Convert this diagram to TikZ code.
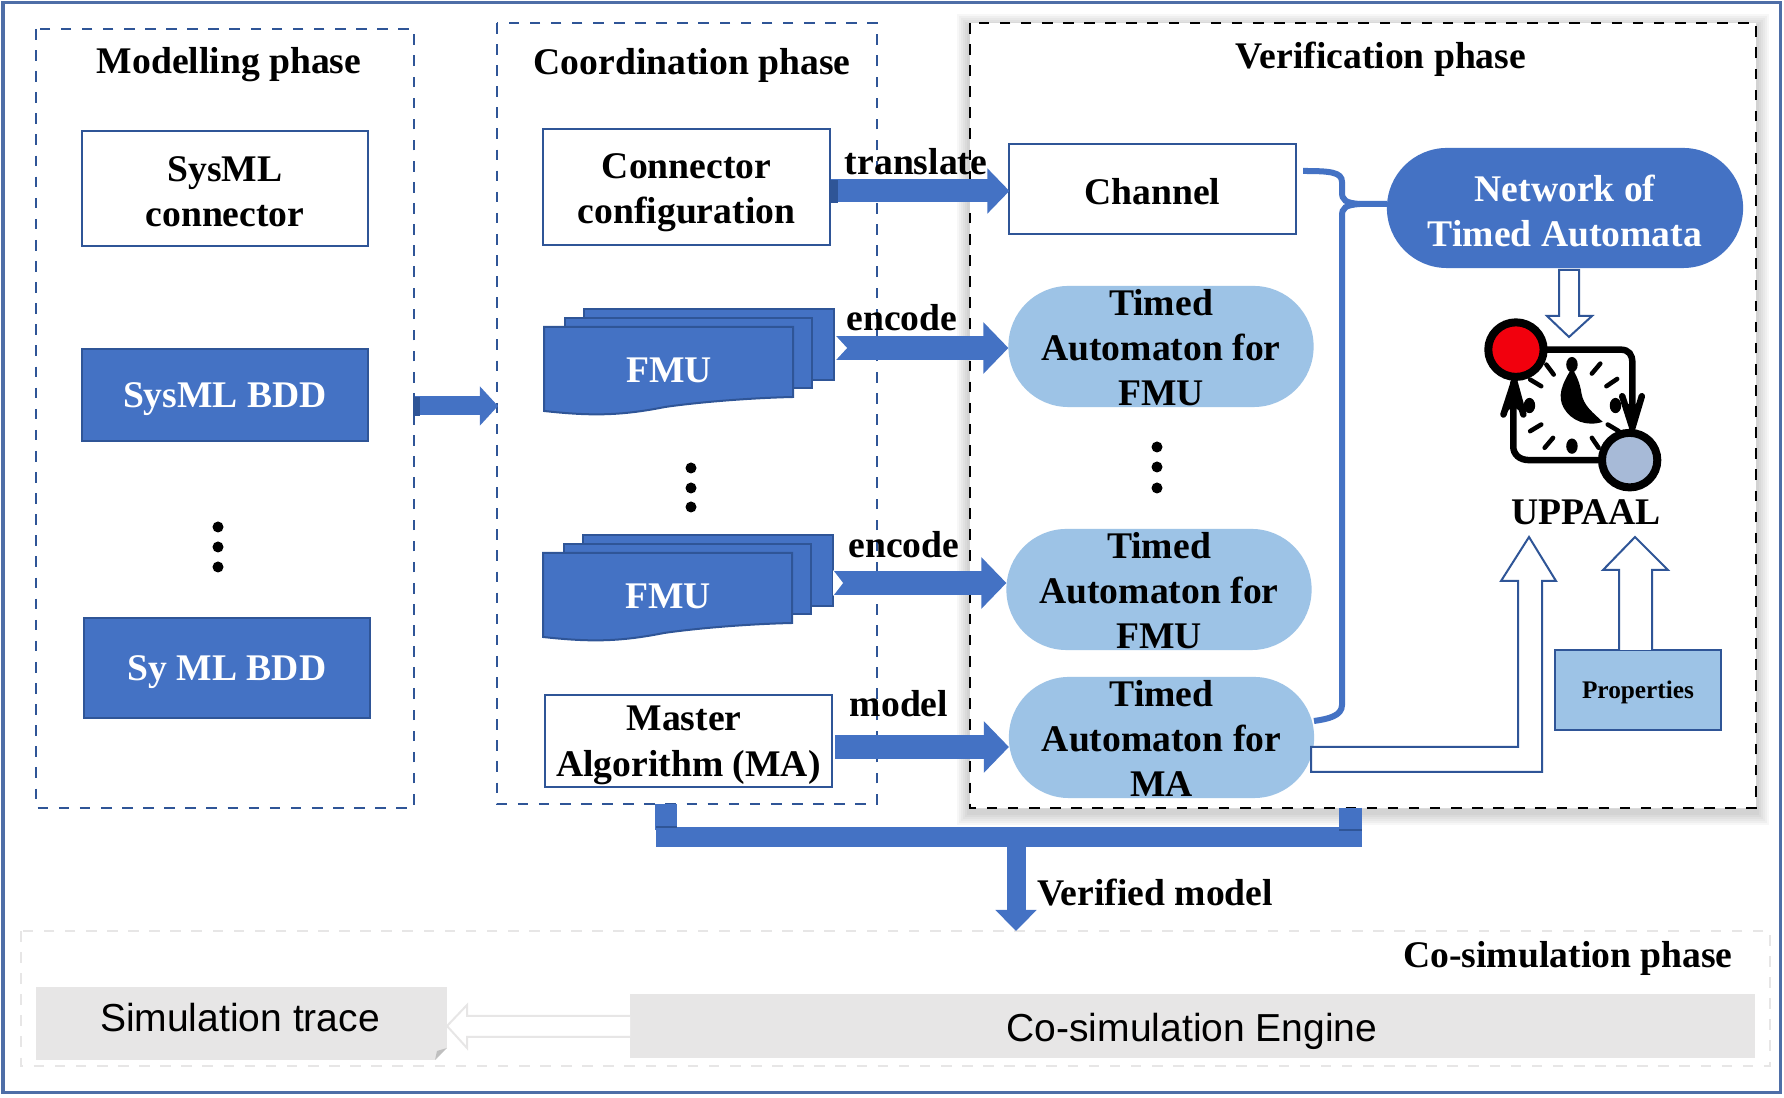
\documentclass[tikz,border=0pt]{standalone}
\usepackage{fontspec}
\setmainfont{Liberation Serif}
\newfontfamily\enginefont{Liberation Sans}
\usetikzlibrary{arrows.meta}
\usepackage{xcolor}

\begin{document}
\begin{tikzpicture}[x=.01cm, y=-.01cm]

    % style
    \definecolor{myblue}{RGB}{68, 114, 196}
    \definecolor{myborder}{RGB}{47, 85, 151}
    \definecolor{mylight}{RGB}{157, 195, 230}
    \definecolor{mygray}{RGB}{231, 230, 230}
    \tikzset{
        font=\fontsize{10.7}{12.9}\selectfont\bfseries,
        every node/.append style={inner sep=0pt, outer sep=0pt, align=center},
        sansfont/.style={font=\enginefont\fontsize{11.1}{13}\selectfont},
        phasebox/.style={draw=myborder, dashed, line width=.02cm},
        whitebox/.style={draw=myborder, fill=white, line width=.02cm, minimum width=2.86cm},
        bluebox/.style={draw=myborder, fill=myblue, line width=.02cm, minimum width=2.86cm},
        tanode/.style={fill=mylight, rounded corners=.6cm, minimum width=3.05cm, minimum height=1.21cm},
        bluearrow/.style={draw=myblue, line width=.24cm, -{Triangle[width=.5cm,length=.25cm]}},
        sheet/.style={draw=myborder, fill=myblue, line width=.02cm},
        hollow/.style={draw=myborder, fill=white, line width=.02cm},
        icon/.style={draw=black, line width=.065cm, line cap=round}
    }

    \useasboundingbox (0,0) rectangle (1784,1098);

    % outer frame
    \draw [draw=myborder!85, line width=.03cm] (3,3) rectangle (1780,1093);

    % phase boxes
    \draw [phasebox] (36,29) rectangle (414,808);
    \draw [phasebox] (497,23) rectangle (877,804);
    \foreach \w in {.26,.22,.18,.14,.1,.06}
    \draw [black, opacity=.03, line width=\w cm, yshift=-.04cm] (970,23) rectangle (1756,808);
    \draw [draw=black, fill=white, dashed, line width=.02cm] (970,23) rectangle (1756,808);
    \draw [draw=mygray, dashed, line width=.02cm] (21,931) rectangle (1770,1066);

    % headings
    \node (modeltitle) at (229,64.5) {Modelling phase};
    \node (coordtitle) at (692,65.5) {Coordination phase};
    \node (verifytitle) at (1381,59) {Verification phase};
    \node (cosimtitle) at (1568,958) {Co-simulation phase};

    % Modelling phase
    \node [whitebox, minimum height=1.15cm] (sysconn) at (225,188.5) {};
    \node (sysconntext) at ([yshift=-.03cm]sysconn) {SysML\\connector};
    \node [bluebox, minimum height=.92cm] (bddA) at (225,395) {};
    \node [text=white] (bddAtext) at ([yshift=-.045cm]bddA) {SysML BDD};
    \node [bluebox, minimum height=1cm] (bddB) at (227,668) {};
    \node [text=white] (bddBtext) at ([yshift=-.045cm]bddB) {Sy ML BDD};
    \foreach \y in {527,547,567}
    \fill (218,\y) circle (.055cm);

    % Coordination phase
    \node [whitebox, minimum height=1.16cm] (connconf) at (686.5,187) {};
    \node (connconftext) at ([yshift=-.06cm]connconf) {Connector\\configuration};
    \foreach \fx/\fy/\fname in {0/0/fmuA, -1/226/fmuB}
    {
        \begin{scope}[shift={(\fx,\fy)}]
        \draw [sheet] (584,309) rectangle (834,380);
        \draw [sheet] (565,318) rectangle (812,388);
        \draw [sheet] (544,327) -- (793,327) -- (793,397) .. controls (750,398) and (700,402) .. (665,407) .. controls (620,416) and (590,416) .. (544,411) -- cycle;
        \node [text=white] (\fname) at (669,370) {FMU};
        \end{scope}
    }
    \coordinate (outA) at (835,348);
    \coordinate (outB) at (833,583);
    \foreach \y in {468,488,507}
    \fill (691,\y) circle (.055cm);
    \node [whitebox, minimum height=.92cm] (master) at (688.5,741) {};
    \node (mastertext) at ([yshift=-.045cm]master) {Master\hspace*{.09cm}\\Algorithm (MA)};

    % Verification phase
    \node [whitebox, minimum height=.9cm] (channel) at (1152.5,189) {};
    \node (channeltext) at ([yshift=-.025cm]channel) {Channel};
    \node [tanode] (taA) at (1161,346.5) {};
    \node (taAtext) at ([yshift=-.01cm]taA) {Timed\\Automaton for\\FMU};
    \foreach \y in {447,467,488}
    \fill (1157,\y) circle (.055cm);
    \node [tanode] (taB) at (1159,589.5) {};
    \node (taBtext) at ([yshift=-.01cm]taB) {Timed\\Automaton for\\FMU};
    \node [tanode] (taC) at (1161.5,737.5) {};
    \node (taCtext) at ([yshift=-.01cm]taC) {Timed\\Automaton for\\MA};
    \node [fill=myblue, rounded corners=.6cm, minimum width=3.56cm, minimum height=1.2cm] (network) at (1565,208) {};
    \node [text=white] (networktext) at ([yshift=-.03cm]network) {Network of\\Timed Automata};
    \node [draw=myborder, fill=mylight, line width=.02cm, minimum width=1.66cm, minimum height=.8cm] (props) at (1638,690) {};
    \node [font=\fontsize{7.2}{9}\selectfont\bfseries] (propstext) at ([yshift=-.025cm]props) {Properties};
    \node (uppaal) at (1586,512) {UPPAAL};

    % block arrows between phases
    \coordinate (outModel) at (415,406);
    \coordinate (outConn) at (831,191);
    \coordinate (outMaster) at (835,747);
    \draw [bluearrow, line width=.19cm, -{Triangle[width=.38cm,length=.18cm]}] (outModel) -- (outModel -| 498,419);
    \draw [bluearrow, line width=.23cm, -{Triangle[width=.44cm,length=.22cm]}] (outConn) -- (outConn -| channel.west);
    \fill [myborder] (413,397) rectangle (420,416);
    \fill [myborder] (830,180) rectangle (838,203);
    \draw [bluearrow] (outA) -- (outA -| taA.west);
    \draw [bluearrow] (outB) -- (outB -| taB.west);
    \fill [white] (835,335) -- (847,348) -- (835,361) -- cycle;
    \fill [white] (833,570) -- (843,583) -- (833,596) -- cycle;
    \draw [bluearrow] (outMaster) -- (outMaster -| taC.west);

    \node (translate) at (916,162) {translate};
    \node (encodeA) at (902,318) {encode};
    \node (encodeB) at (904,545) {encode};
    \node (modeltext) at (899,704) {model};

    % brace from channel and automata to the network
    \coordinate (braceA) at (1303,171);
    \coordinate (braceB) at (1314,721);
    \draw [draw=myblue, line width=.06cm] (braceA) .. controls (1330,171) and (1342,172) .. (1342,182) -- (1342,192) .. controls (1342,200) and (1345,203) .. (1360,204) -- ([yshift=.04cm]network.west);
    \draw [draw=myblue, line width=.06cm] (1360,204) .. controls (1345,205) and (1342,208) .. (1342,216) -- (1342,705) .. controls (1342,716) and (1328,719) .. (braceB);

    % open arrows
    \draw [hollow] (1559,270) -- (1579,270) -- (1579,316) -- (1592,316) -- (1569,337) -- (1547,316) -- (1559,316) -- cycle;
    \draw [hollow] (1311,747) -- (1518,747) -- (1518,581) -- (1501,581) -- (1529,537) -- (1556,581) -- (1542,581) -- (1542,772) -- (1311,772) -- cycle;
    \draw [hollow] (1619,650) -- (1619,570) -- (1603,570) -- (1635,537) -- (1668,570) -- (1652,570) -- (1652,650);

    % clock of the UPPAAL logo
    \begin{scope}[shift={(1300,130)}, x=.003367cm, y=-.00333cm]
    \draw [icon] (640,660) -- (950,660) .. controls (975,660) and (985,675) .. (985,700) -- (985,880);
    \draw [icon] (977,992) -- (680,992) .. controls (650,992) and (632,975) .. (632,950) -- (632,760);
    \draw [icon, line join=round] (603,855) -- (635,755) -- (662,855);
    \fill (635,750) -- (665,855) -- (632,830) -- (603,855) -- cycle;
    \draw [icon, line join=round] (955,800) -- (985,895) -- (1013,800);
    \fill (990,895) -- (960,815) -- (985,830) -- (1008,815) -- cycle;
    \foreach \xa/\ya/\xb/\yb in {865/732/890/702, 908/770/940/748, 912/885/945/905, 865/925/885/955, 725/955/750/925, 682/905/715/885, 682/750/715/770, 730/705/752/735}
    \draw [icon, line width=.045cm] (\xa,\ya) -- (\xb,\yb);
    \foreach \xa/\ya in {806/705, 806/950, 935/828, 680/828}
    \fill (\xa,\ya) ellipse (17 and 23);
    \fill (806,715) .. controls (775,765) and (762,800) .. (782,836) .. controls (805,875) and (850,892) .. (897,877) .. controls (870,850) and (840,830) .. (834,790) .. controls (830,760) and (818,735) .. (806,715) -- cycle;
    \filldraw [draw=black, fill=red!95!blue, line width=.08cm] (640,660) circle (82 and 82);
    \filldraw [draw=black, fill=mylight!30!myborder!50, line width=.08cm] (977,992) circle (82 and 82);
    \end{scope}

    % verified model bar
    \coordinate (stemA) at (666,804);
    \coordinate (stemB) at (1350,808);
    \coordinate (barA) at (666,830);
    \coordinate (barB) at (1350,830);
    \coordinate (dropA) at (1016,847);
    \coordinate (dropB) at (1016,931);
    \draw [draw=myblue, line width=.21cm] (stemA) -- (barA);
    \draw [draw=myblue, line width=.23cm] (stemB) -- (barB);
    \fill [myblue] (656,827) rectangle (1362,847);
    \draw [draw=myborder, line width=.015cm] (656,827) -- (677,827);
    \draw [draw=myborder, line width=.015cm] (1339,830) -- (1362,830);
    \draw [bluearrow, line width=.19cm, -{Triangle[width=.4cm,length=.21cm]}] (dropA) -- (dropB);
    \node (verified) at (1155,893) {Verified model};

    % Co-simulation phase
    \node [fill=mygray, minimum width=11.25cm, minimum height=.64cm] (engine) at (1192.5,1026) {};
    \node [sansfont] (enginetext) at (1192,1031) {Co-simulation Engine};
    \node [fill=mygray, minimum width=4.11cm, minimum height=.73cm] (trace) at (241.5,1023.5) {};
    \node [sansfont] (tracetext) at (240,1018) {Simulation trace};
    \fill [white] (447,1048) -- (447,1061) -- (435,1061) -- cycle;
    \fill [black!25] (447,1048) -- (435,1060) -- (437,1051) -- cycle;
    \draw [draw=mygray, fill=white, line width=.02cm] (630,1016) -- (467,1016) -- (467,1005) -- (447,1026) -- (467,1048) -- (467,1037) -- (630,1037);

\end{tikzpicture}
\end{document}
